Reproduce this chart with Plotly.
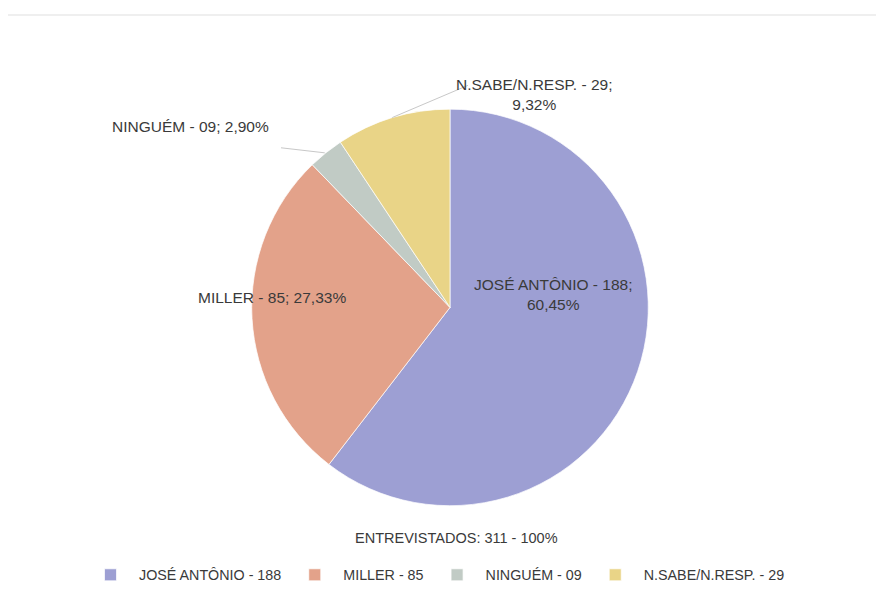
import math
import plotly.graph_objects as go

# ---------------- data ----------------
categories = ["JOSÉ ANTÔNIO", "MILLER", "NINGUÉM", "N.SABE/N.RESP."]
counts = [188, 85, 9, 29]
percents = [60.45, 27.33, 2.90, 9.32]
total_label = "ENTREVISTADOS: 311 - 100%"

# ---------------- style / layout ----------------
colors = ["#9D9FD3", "#E3A28A", "#C1CBC5", "#E9D487"]
OFF = 8                      # default page margin around the plot div
W, H = 884 - 2 * OFF, 599 - 2 * OFF
cx, cy, R = 450, 310, 200    # pie centre / radius (page pixels)
label_pos = [(553, 297), (272, 300), (190, 128), (534, 95)]   # label centres (page px)
label_sep = ["<br>", " ", " ", "<br>"]
leader_from = [None, None, (281, 149), (468, 86)]             # label end of leader lines
text_color = "#3A3A3A"
FONT = "Liberation Sans"


def px(x):
    return (x - OFF) / W


def py(y):
    return 1 - (y - OFF) / H


def fmt_pct(p):
    return f"{p:.2f}".replace(".", ",") + "%"


legend_names = [f"{c} - {v:02d}" for c, v in zip(categories, counts)]
label_texts = [f"{c} - {v:02d};{s}{fmt_pct(p)}"
               for c, v, p, s in zip(categories, counts, percents, label_sep)]

fig = go.Figure(
    go.Pie(
        labels=legend_names,
        values=counts,
        sort=False,
        direction="clockwise",
        rotation=0,
        marker=dict(colors=colors, line=dict(color="rgba(255,255,255,0.7)", width=1)),
        textinfo="none",
        hoverinfo="label+percent",
        domain=dict(x=[px(cx - R), px(cx + R)], y=[py(cy + R), py(cy - R)]),
    )
)

annotations = []
for txt, (lx, ly) in zip(label_texts, label_pos):
    annotations.append(dict(
        x=px(lx), y=py(ly), xref="paper", yref="paper", text=txt,
        showarrow=False, xanchor="center", yanchor="middle",
        font=dict(family=FONT, size=15.5, color=text_color), align="center",
    ))
annotations.append(dict(
    x=px(456), y=py(543), xref="paper", yref="paper", text=total_label,
    showarrow=False, xanchor="center", yanchor="middle",
    font=dict(family=FONT, size=14.5, color=text_color),
))

# leader lines: from label to the outer edge of the slice at its mid angle
shapes = []
total = sum(counts)
cum = 0
for v, start in zip(counts, leader_from):
    mid = (cum + v / 2) / total * 2 * math.pi
    cum += v
    if start is None:
        continue
    ex = cx + R * math.sin(mid)
    ey = cy - R * math.cos(mid)
    shapes.append(dict(type="line", xref="paper", yref="paper",
                       x0=px(start[0]), y0=py(start[1]), x1=px(ex), y1=py(ey),
                       line=dict(color="#C8C8C8", width=1)))

# faint chart-area frame
shapes.append(dict(type="rect", xref="paper", yref="paper",
                   x0=px(7), y0=-0.05, x1=1.05, y1=py(15),
                   line=dict(color="#EFEFEF", width=2), layer="below"))

fig.update_layout(
    width=W, height=H, autosize=False,
    margin=dict(l=0, r=0, t=0, b=0),
    paper_bgcolor="white", plot_bgcolor="white",
    showlegend=True,
    legend=dict(orientation="h", x=px(436), xanchor="center", y=py(580), yanchor="middle",
                font=dict(family=FONT, size=14.3, color=text_color),
                itemwidth=47, traceorder="normal"),
    annotations=annotations,
    shapes=shapes,
)

fig.write_html("out.html")
